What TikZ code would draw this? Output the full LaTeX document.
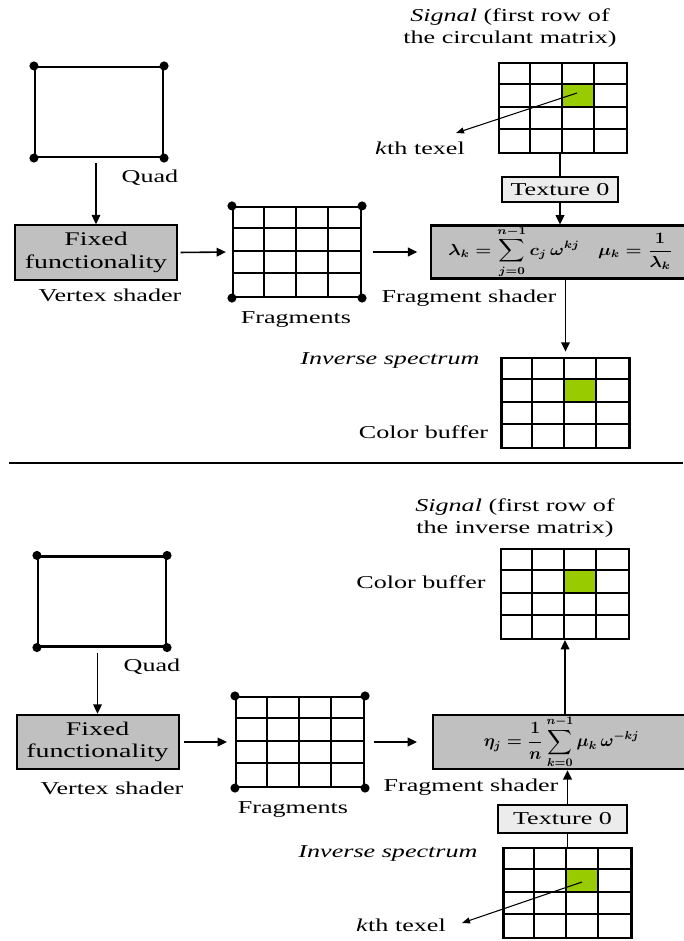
\documentclass[tikz,border=0pt]{standalone}
\usepackage{fontspec}
\setmainfont{Liberation Serif}
\usepackage{amsmath}
\usepackage{graphicx}
\usetikzlibrary{arrows.meta,calc}
\newcommand{\hs}[1]{\scalebox{1.44}[1]{#1}}
\newcommand{\ms}[1]{\scalebox{1.15}[1]{#1}}
\newcommand{\mygreen}[1]{\begin{scope}[shift={(#1.north west)}]\fill[texelgreen] (64,22.5) rectangle (96,45);\end{scope}}
\newcommand{\mygrid}[1]{\begin{scope}[shift={(#1.north west)}]\foreach \i in {1,2,3}{\draw[gl] (32*\i,0) -- (32*\i,90);\draw[gl] (0,22.5*\i) -- (128,22.5*\i);}\end{scope}}
\newcommand{\mydots}[1]{\foreach \a in {north west,north east,south west,south east}{\fill (#1.\a) circle (3.4pt);}}
\definecolor{texelgreen}{RGB}{153,204,0}
\definecolor{boxgray}{RGB}{192,192,192}
\definecolor{texgray}{RGB}{236,236,236}
\begin{document}
\begin{tikzpicture}[x=0.75pt,y=-0.75pt,
  lbl/.style={inner sep=0pt, font=\fontsize{13.6pt}{16pt}\selectfont, align=center},
  gl/.style={line width=1.5pt},
  gridbox/.style={draw, line width=1.6pt, inner sep=0pt, minimum width=96pt, minimum height=67.5pt},
  quadbox/.style={draw, line width=1.6pt, inner sep=0pt, minimum width=96pt, minimum height=67.5pt},
  fixbox/.style={draw, line width=1.5pt, fill=boxgray, inner sep=0pt, minimum width=121.5pt, minimum height=41pt, font=\fontsize{14.5pt}{17pt}\selectfont, align=center},
  fbox/.style={draw, line width=1.8pt, fill=boxgray, inner sep=0pt, minimum width=194pt, minimum height=39.5pt, font=\fontsize{12pt}{14pt}\selectfont},
  texbox/.style={draw, line width=1.5pt, fill=texgray, inner sep=0pt, font=\fontsize{13.6pt}{16pt}\selectfont},
  arr/.style={-{Triangle[length=7pt,width=6.5pt]}, line width=1.2pt},
  sarr/.style={-{Triangle[length=6pt,width=4.5pt]}, line width=0.8pt},
  ln/.style={line width=1.2pt}]
\useasboundingbox (0,0) rectangle (683,941);

% ================= TOP =================
\node[lbl] (sigtxt) at (510,28) {\hs{\textit{Signal} (first row of}\\\hs{the circulant matrix)}};
\node[gridbox] (sig) at (563,108) {};
\mygreen{sig}\mygrid{sig}
\coordinate (g1) at (577,93);
\coordinate (t1) at (456,133);
\draw[sarr] (g1) -- (t1);
\node[lbl] (k1) at (420,148) {\hs{\textit{k}th texel}};

\node[texbox, minimum width=87pt, minimum height=18.75pt] (tex1) at (560,189.5) {\hs{Texture 0}};
\node[fbox] (fs1) at (560.5,252) {\ms{\mathversion{bold}$\displaystyle \lambda_k=\sum_{j=0}^{n-1}c_j\,\omega^{kj}\quad \mu_k=\frac{1}{\lambda_k}$}};
\draw[ln] (tex1.north |- sig.south) -- (tex1.north);
\draw[arr] (tex1.south) -- (tex1.south |- fs1.north);
\node[lbl] (fst1) at (469,298) {\hs{Fragment shader}};

\node[quadbox] (quad1) at (99,112) {};
\mydots{quad1}
\node[lbl] (qt1) at (150,178) {\hs{Quad}};
\node[fixbox] (fix1) at (96,252.5) {\hs{Fixed}\\\hs{functionality}};
\node[lbl] (vs1) at (110,295) {\hs{Vertex shader}};
\draw[arr, shorten <=4pt] (fix1.north |- quad1.south) -- (fix1.north);

\node[gridbox] (frag1) at (297,252) {};
\mygrid{frag1}\mydots{frag1}
\node[lbl] (fr1) at (296,320) {\hs{Fragments}};
\draw[arr, shorten <=2pt, shorten >=4.5pt] (fix1.east) -- (frag1.west);
\draw[arr, shorten <=8pt, shorten >=9.5pt] (frag1.east) -- (frag1.east -| fs1.west);

\node[gridbox] (cb1) at (565.5,403) {};
\mygreen{cb1}\mygrid{cb1}
\draw[arr, shorten >=4pt] (cb1.north |- fs1.south) -- (cb1.north);
\node[lbl] (inv1) at (390,360) {\hs{\textit{Inverse spectrum}}};
\node[lbl] (cbt1) at (423.5,432) {\hs{Color buffer}};

% separator
\coordinate (sepL) at (9,463);
\coordinate (sepR) at (683,463);
\draw[line width=1.5pt] (sepL) -- (sepR);

% ================= BOTTOM =================
\node[lbl] (sigtxt2) at (515,518) {\hs{\textit{Signal} (first row of}\\\hs{the inverse matrix)}};
\node[gridbox] (cb2) at (565,594) {};
\mygreen{cb2}\mygrid{cb2}
\node[lbl] (cbt2) at (421,582) {\hs{Color buffer}};

\node[fbox, minimum width=193pt, minimum height=40.5pt] (fs2) at (561.5,742) {\scalebox{1.08}{\mathversion{bold}$\displaystyle \eta_j=\frac{1}{n}\sum_{k=0}^{n-1}\mu_k\,\omega^{-kj}$}};
\draw[arr] (cb2.south |- fs2.north) -- (cb2.south);
\node[lbl] (fst2) at (471,787) {\hs{Fragment shader}};

\node[texbox, minimum width=96.75pt, minimum height=21pt] (tex2) at (562.5,819) {\hs{Texture 0}};
\node[gridbox] (inv) at (567.5,893) {};
\mygreen{inv}\mygrid{inv}
\draw[ln] (inv.north) -- (inv.north |- tex2.south);
\draw[arr] (inv.north |- tex2.north) -- (inv.north |- fs2.south);
\node[lbl] (invt2) at (388,853) {\hs{\textit{Inverse spectrum}}};
\coordinate (g2) at (582,882);
\coordinate (t2) at (462,923);
\draw[sarr] (g2) -- (t2);
\node[lbl] (k2) at (401,925) {\hs{\textit{k}th texel}};

\node[quadbox] (quad2) at (102,601.5) {};
\mydots{quad2}
\node[lbl] (qt2) at (152,667) {\hs{Quad}};
\node[fixbox] (fix2) at (97.5,742) {\hs{Fixed}\\\hs{functionality}};
\node[lbl] (vs2) at (112,788) {\hs{Vertex shader}};
\draw[arr, shorten <=4pt] (fix2.north |- quad2.south) -- (fix2.north);

\node[gridbox] (frag2) at (300,742) {};
\mygrid{frag2}\mydots{frag2}
\node[lbl] (fr2) at (293,810) {\hs{Fragments}};
\draw[arr, shorten <=3.5pt, shorten >=6pt] (fix2.east) -- (frag2.west);
\draw[arr, shorten <=6.5pt, shorten >=11pt] (frag2.east) -- (frag2.east -| fs2.west);
\end{tikzpicture}
\end{document}
